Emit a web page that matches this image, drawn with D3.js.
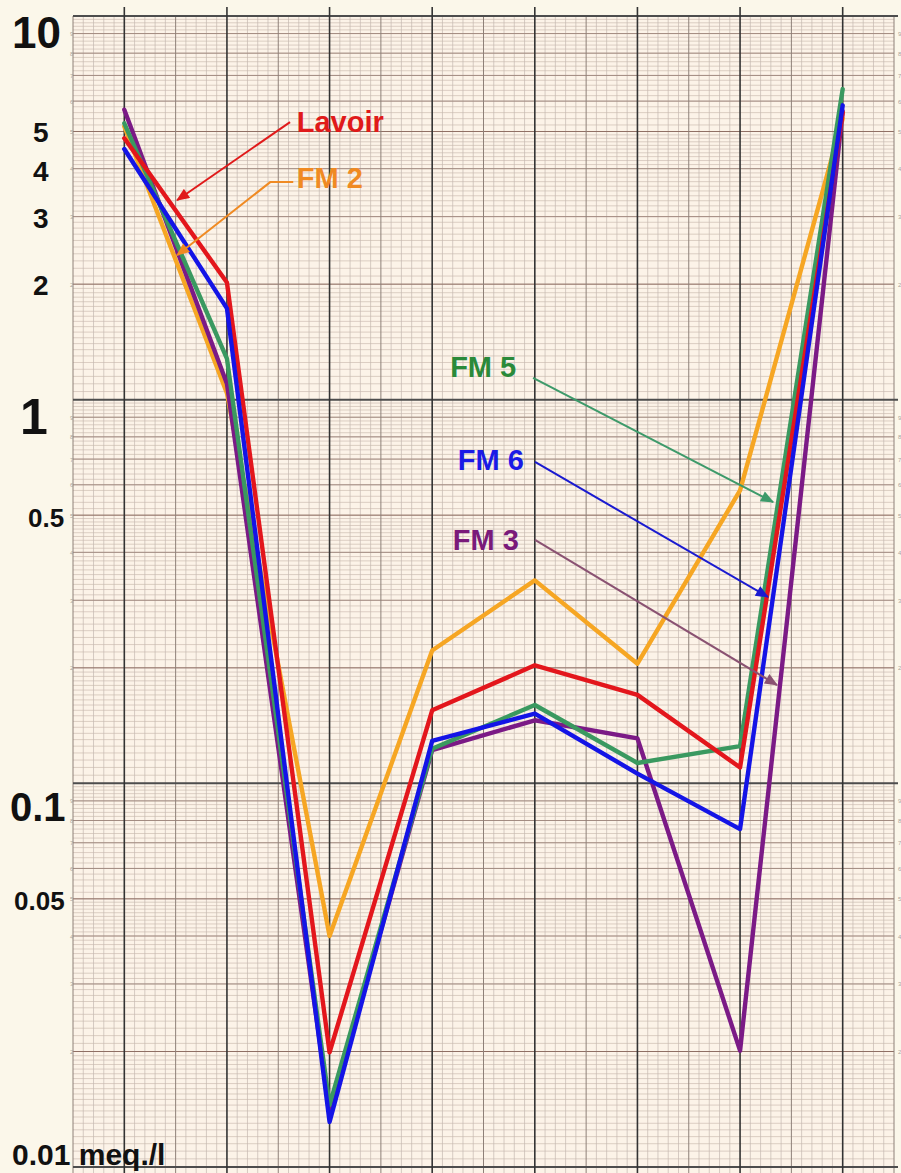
<!DOCTYPE html>
<html>
<head>
<meta charset="utf-8">
<script src="https://cdn.jsdelivr.net/npm/d3@7"></script>
<style>
  html, body { margin: 0; padding: 0; background: #fbf7ea; }
  svg { display: block; }
</style>
</head>
<body>
<svg id="chart" width="901" height="1173"></svg>
<script>
// ---- data ----------------------------------------------------------------
const categories = ["A", "B", "C", "D", "E", "F", "G", "H"];

const lavoir = [4.8, 2.02, 0.0199, 0.155, 0.203, 0.17, 0.11, 5.6];
const fm2    = [5.15, 1.04, 0.040, 0.222, 0.338, 0.205, 0.58, 5.4];
const fm3    = [5.7, 1.10, 0.014, 0.122, 0.146, 0.131, 0.0201, 5.65];
const fm5    = [5.25, 1.28, 0.0145, 0.123, 0.16, 0.113, 0.125, 6.45];
const fm6    = [4.5, 1.73, 0.0131, 0.129, 0.152, 0.106, 0.076, 5.85];

const seriesNames = ["FM 2", "FM 3", "FM 5", "Lavoir", "FM 6"];
const seriesValues = [fm2, fm3, fm5, lavoir, fm6];

const tickValues = [10, 5, 4, 3, 2, 1, 0.5, 0.1, 0.05, 0.01];
const tickLabels = ["10", "5", "4", "3", "2", "1", "0.5", "0.1", "0.05", "0.01 meq./l"];

// annotation anchors in data space: [category position, value]
const annotationNames = ["Lavoir", "FM 2", "FM 5", "FM 6", "FM 3"];
const annotationText  = [[1.68, 4.99], [1.68, 3.56], [3.175, 1.146], [3.25, 0.656], [3.2, 0.406]];
const annotationArrow = [
  [[1.615, 5.29], [0.514, 3.31]],
  [[1.646, 3.69], [1.422, 3.69], [0.514, 2.38]],
  [[3.983, 1.139], [6.322, 0.541]],
  [[4.002, 0.688], [6.272, 0.306]],
  [[4.002, 0.431], [6.36, 0.1804]]
];

// ---- styles --------------------------------------------------------------
const lineColor = {
  "Lavoir": "#e3161c", "FM 2": "#f6a623", "FM 3": "#7b1a86",
  "FM 5": "#3a9960", "FM 6": "#1414e6"
};
const labelColor = {
  "Lavoir": "#e01a1a", "FM 2": "#f08a22", "FM 3": "#7a1a7a",
  "FM 5": "#2a8a3a", "FM 6": "#1a1ae6"
};
const arrowColor = {
  "Lavoir": "#e01a1a", "FM 2": "#f08a22", "FM 3": "#8a5272",
  "FM 5": "#3d9a6a", "FM 6": "#1a1ad0"
};
// per tick label: font size, left x, baseline offset from the value line
const tickStyle = [
  [44, 12, 32], [28, 33, 11], [28, 33, 12], [28, 33, 11], [28, 33, 11],
  [50, 20, 34], [26, 28, 12], [40, 10, 38], [26, 14, 11], [30, 12, -2]
];

// ---- layout --------------------------------------------------------------
const plot = { left: 73, right: 894, top: 16, bottom: 1167 };
const svg = d3.select("#chart");
const fontBold = "'Liberation Sans', Arial, sans-serif";

const x = d3.scaleBand().domain(categories).range([plot.left, plot.right]).padding(0);
const bw = x.bandwidth();
const xc = c => x(c) + bw / 2;
const xi = t => plot.left + (t + 0.5) * bw;      // fractional category position
const y = d3.scaleLog().domain([0.01, 10]).range([plot.bottom, plot.top]);

// paper
svg.append("rect").attr("width", 901).attr("height", 1173).attr("fill", "#fbf7ea");
svg.append("rect")
  .attr("x", plot.left).attr("y", plot.top)
  .attr("width", plot.right - plot.left).attr("height", 1173 - plot.top)
  .attr("fill", "#fcf3e8");

const grid = svg.append("g");

// horizontal log-paper rules
const decades = [0.01, 0.1, 1];
const hMinor = [], hInt = [], hDecade = [];
decades.forEach(d => {
  d3.range(20, 40).forEach(k => hMinor.push(d * k / 20));
  d3.range(20, 50).forEach(k => hMinor.push(d * k / 10));
  d3.range(25, 50).forEach(k => hMinor.push(d * k / 5));
  d3.range(2, 10).forEach(k => hInt.push(d * k));
  hDecade.push(d);
});
hDecade.push(10);

grid.selectAll("line.hmin").data(hMinor).join("line")
  .attr("x1", plot.left).attr("x2", plot.right)
  .attr("y1", d => y(d)).attr("y2", d => y(d))
  .attr("stroke", "#cdbdb2").attr("stroke-width", 0.7);

// vertical minor rules (ten per column)
const vMinor = d3.range(0, categories.length * 10 + 1).filter(k => k % 5 !== 0);
grid.selectAll("line.vmin").data(vMinor).join("line")
  .attr("x1", k => plot.left + k * bw / 10).attr("x2", k => plot.left + k * bw / 10)
  .attr("y1", plot.top).attr("y2", 1173)
  .attr("stroke", "#c4b8b0").attr("stroke-width", 0.7);

grid.selectAll("line.hint").data(hInt).join("line")
  .attr("x1", plot.left).attr("x2", plot.right)
  .attr("y1", d => y(d)).attr("y2", d => y(d))
  .attr("stroke", d => {
    const m = Math.round(d / Math.pow(10, Math.floor(Math.log10(d) + 1e-9)));
    return (m === 2 || m === 5) ? "#8f6f64" : "#a38c82";
  })
  .attr("stroke-width", 1);

// column boundaries
const bounds = d3.range(0, categories.length + 1);
grid.selectAll("line.vb").data(bounds).join("line")
  .attr("x1", k => plot.left + k * bw).attr("x2", k => plot.left + k * bw)
  .attr("y1", plot.top).attr("y2", 1173)
  .attr("stroke", "#8e8078").attr("stroke-width", 1);

grid.selectAll("line.hdec").data(hDecade).join("line")
  .attr("x1", plot.left).attr("x2", plot.right + 4)
  .attr("y1", d => y(d)).attr("y2", d => y(d))
  .attr("stroke", "#4d4d4d").attr("stroke-width", 2);

// column axes
grid.selectAll("line.vc").data(categories).join("line")
  .attr("x1", c => xc(c)).attr("x2", c => xc(c))
  .attr("y1", plot.top - 9).attr("y2", 1173)
  .attr("stroke", "#333").attr("stroke-width", 1.6);

// small printed digits on the paper margins
const smallDigits = [];
decades.forEach(d => d3.range(2, 10).forEach(k => smallDigits.push({ v: d * k, t: String(k) })));
[plot.left - 3, plot.right + 4].forEach(px => {
  grid.selectAll(null).data(smallDigits).join("text")
    .attr("x", px).attr("y", d => y(d.v) + 2.5)
    .attr("font-family", fontBold).attr("font-size", 6)
    .attr("fill", "#aaa39b")
    .text(d => d.t);
});

// ---- series --------------------------------------------------------------
const line = d3.line()
  .x((d, i) => xc(categories[i]))
  .y(d => y(d))
  .curve(d3.curveLinear);

svg.append("g").selectAll("path").data(seriesValues).join("path")
  .attr("d", d => line(d))
  .attr("fill", "none")
  .attr("stroke", (d, i) => lineColor[seriesNames[i]])
  .attr("stroke-width", 4.4)
  .attr("stroke-linejoin", "round")
  .attr("stroke-linecap", "round");

// ---- axis labels ---------------------------------------------------------
svg.append("g").selectAll("text").data(tickValues).join("text")
  .attr("x", (d, i) => tickStyle[i][1])
  .attr("y", (d, i) => y(d) + tickStyle[i][2])
  .attr("font-family", fontBold).attr("font-weight", "bold")
  .attr("font-size", (d, i) => tickStyle[i][0])
  .attr("fill", "#111")
  .text((d, i) => tickLabels[i]);

// ---- annotations ---------------------------------------------------------
const defs = svg.append("defs");
annotationNames.forEach((n, i) => {
  defs.append("marker")
    .attr("id", "ah" + i)
    .attr("viewBox", "0 0 12 10")
    .attr("refX", 11).attr("refY", 5)
    .attr("markerWidth", 14).attr("markerHeight", 11)
    .attr("markerUnits", "userSpaceOnUse")
    .attr("orient", "auto")
    .append("path").attr("d", "M0,0 L12,5 L0,10 Z")
    .attr("fill", arrowColor[n]);
});

const ann = svg.append("g");
ann.selectAll("path").data(annotationArrow).join("path")
  .attr("d", pts => d3.line().x(p => xi(p[0])).y(p => y(p[1]))(pts))
  .attr("fill", "none")
  .attr("stroke", (d, i) => arrowColor[annotationNames[i]])
  .attr("stroke-width", 2)
  .attr("marker-end", (d, i) => "url(#ah" + i + ")");

ann.selectAll("text").data(annotationNames).join("text")
  .attr("x", (d, i) => xi(annotationText[i][0]))
  .attr("y", (d, i) => y(annotationText[i][1]))
  .attr("font-family", fontBold).attr("font-weight", "bold")
  .attr("font-size", 29)
  .attr("fill", d => labelColor[d])
  .text(d => d);
</script>
</body>
</html>
